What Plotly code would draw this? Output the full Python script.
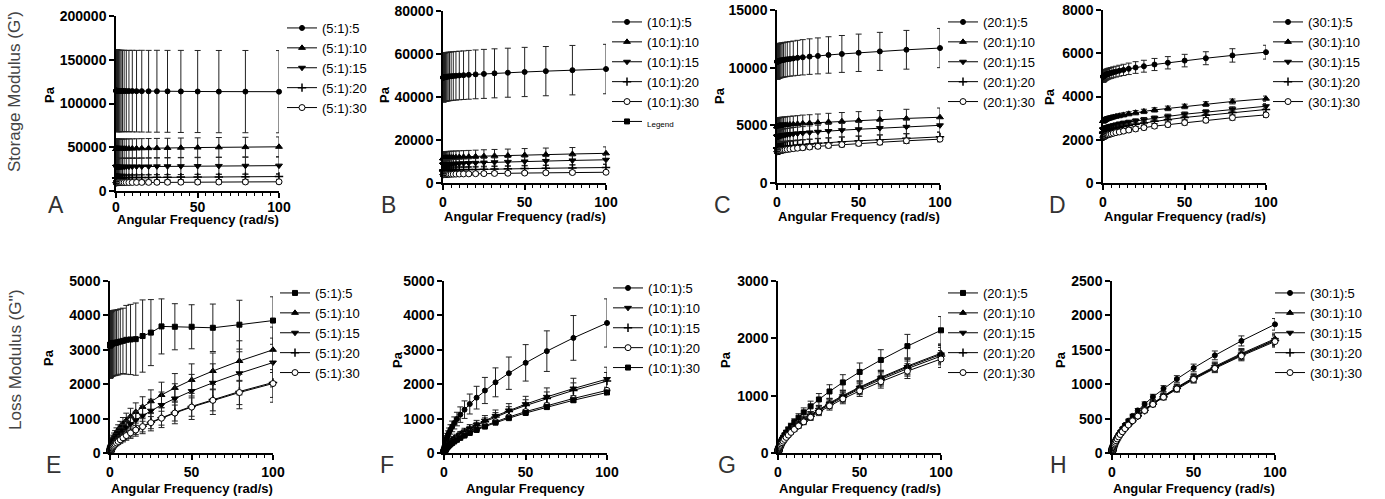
import plotly.graph_objects as go

W, H = 1385, 499

# ---------------- data ----------------
FREQ = [0.1, 0.126, 0.158, 0.2, 0.251, 0.316, 0.398, 0.501, 0.631, 0.794, 1.0, 1.26, 1.58, 2.0, 2.51,
        3.16, 3.98, 5.01, 6.31, 7.94, 10.0, 12.6, 15.8, 20.0, 25.1, 31.6, 39.8, 50.1, 63.1, 79.4, 100.0]

# Storage modulus G' (Pa)
A_5 = [114500, 114500, 114500, 114500, 114500, 114400, 114400, 114400, 114400, 114400, 114400, 114400, 114300, 114300, 114300, 114300, 114300, 114300, 114200, 114200, 114200, 114100, 114100, 114000, 114000, 113900, 113800, 113700, 113600, 113600, 113500]
A_5_err = [46500, 46500, 46500, 46500, 46500, 46500, 46500, 46500, 46500, 46500, 46500, 46500, 46500, 46500, 46500, 46500, 46500, 46500, 46500, 46500, 46600, 46600, 46700, 46700, 46800, 46800, 46900, 46900, 47000, 47000, 47000]
A_10 = [48040, 48050, 48050, 48060, 48070, 48080, 48090, 48100, 48120, 48140, 48160, 48180, 48210, 48240, 48270, 48320, 48360, 48420, 48480, 48550, 48630, 48720, 48830, 48950, 49090, 49250, 49440, 49650, 49900, 50180, 50500]
A_10_err = [11000, 11000, 11000, 11000, 11000, 11000, 11000, 11000, 11000, 11000, 11000, 11000, 11000, 11000, 11000, 11000, 11000, 11000, 11000, 11000, 11000, 11000, 11000, 11000, 11000, 11000, 11100, 11100, 11200, 11200, 11300]
A_15 = [27520, 27530, 27530, 27540, 27540, 27550, 27550, 27560, 27570, 27580, 27600, 27610, 27630, 27640, 27660, 27690, 27720, 27750, 27790, 27830, 27880, 27930, 28000, 28070, 28160, 28250, 28360, 28490, 28640, 28810, 29000]
A_15_err = [9500, 9500, 9500, 9500, 9500, 9500, 9500, 9500, 9500, 9500, 9500, 9500, 9500, 9500, 9500, 9500, 9500, 9500, 9500, 9500, 9500, 9500, 9500, 9500, 9500, 9500, 9600, 9600, 9700, 9700, 9800]
A_20 = [15020, 15030, 15030, 15040, 15040, 15050, 15050, 15060, 15070, 15080, 15100, 15110, 15130, 15140, 15160, 15190, 15220, 15250, 15290, 15330, 15380, 15430, 15500, 15570, 15660, 15750, 15860, 15990, 16140, 16310, 16500]
A_20_err = [3000, 3000, 3000, 3000, 3000, 3000, 3000, 3000, 3000, 3000, 3000, 3000, 3000, 3000, 3000, 3000, 3000, 3000, 3000, 3000, 3000, 3000, 3000, 3000, 3000, 3000, 3000, 3100, 3100, 3100, 3200]
A_30 = [9520, 9520, 9520, 9520, 9530, 9530, 9540, 9540, 9550, 9560, 9560, 9570, 9580, 9600, 9610, 9630, 9650, 9670, 9690, 9720, 9750, 9790, 9830, 9880, 9940, 10000, 10080, 10160, 10260, 10370, 10500]
A_30_err = [2000, 2000, 2000, 2000, 2000, 2000, 2000, 2000, 2000, 2000, 2000, 2000, 2000, 2000, 2000, 2000, 2000, 2000, 2000, 2000, 2000, 2000, 2000, 2000, 2000, 2000, 2000, 2100, 2100, 2100, 2200]

B_5 = [49060, 49070, 49080, 49100, 49110, 49130, 49150, 49170, 49190, 49220, 49250, 49290, 49330, 49380, 49440, 49500, 49580, 49660, 49760, 49880, 50010, 50150, 50320, 50520, 50750, 51010, 51300, 51640, 52030, 52480, 53000]
B_5_err = [11300, 11300, 11300, 11300, 11300, 11300, 11300, 11300, 11300, 11300, 11300, 11300, 11300, 11300, 11300, 11300, 11300, 11300, 11300, 11300, 11300, 11300, 11350, 11350, 11400, 11400, 11400, 11450, 11450, 11500, 11500]
B_10 = [11540, 11540, 11550, 11560, 11560, 11570, 11580, 11600, 11610, 11630, 11650, 11670, 11690, 11720, 11750, 11790, 11830, 11880, 11940, 12000, 12080, 12160, 12260, 12370, 12500, 12650, 12820, 13020, 13250, 13500, 13800]
B_10_err = [2900, 2900, 2900, 2900, 2900, 2900, 2900, 2900, 2900, 2900, 2900, 2900, 2900, 2900, 2900, 2900, 2900, 2900, 2900, 2900, 2900, 2900, 2900, 2900, 2950, 2950, 2950, 3000, 3000, 3000, 3000]
B_15 = [8540, 8540, 8550, 8560, 8560, 8570, 8580, 8600, 8610, 8630, 8650, 8670, 8690, 8720, 8750, 8790, 8830, 8880, 8940, 9000, 9080, 9160, 9260, 9370, 9500, 9650, 9820, 10020, 10250, 10500, 10800]
B_15_err = [2000, 2000, 2000, 2000, 2000, 2000, 2000, 2000, 2000, 2000, 2000, 2000, 2000, 2000, 2000, 2000, 2000, 2000, 2000, 2000, 2000, 2000, 2000, 2000, 2000, 2000, 2050, 2050, 2100, 2100, 2100]
B_20 = [5820, 5830, 5830, 5830, 5840, 5840, 5850, 5860, 5870, 5880, 5890, 5900, 5920, 5930, 5950, 5980, 6000, 6030, 6070, 6110, 6150, 6200, 6260, 6330, 6410, 6500, 6610, 6730, 6860, 7020, 7200]
B_20_err = [1400, 1400, 1400, 1400, 1400, 1400, 1400, 1400, 1400, 1400, 1400, 1400, 1400, 1400, 1400, 1400, 1400, 1400, 1400, 1400, 1400, 1400, 1400, 1400, 1400, 1400, 1400, 1450, 1450, 1450, 1500]
B_30 = [3920, 3920, 3920, 3930, 3930, 3940, 3940, 3950, 3950, 3960, 3970, 3980, 3990, 4010, 4020, 4040, 4060, 4080, 4110, 4140, 4180, 4220, 4260, 4320, 4380, 4450, 4530, 4630, 4730, 4860, 5000]
B_30_err = [700, 700, 700, 700, 700, 700, 700, 700, 700, 700, 700, 700, 700, 700, 700, 700, 700, 700, 700, 700, 700, 700, 700, 700, 700, 700, 700, 720, 720, 740, 750]

C_5 = [10520, 10520, 10530, 10530, 10530, 10540, 10540, 10550, 10560, 10570, 10580, 10590, 10600, 10620, 10630, 10650, 10670, 10700, 10730, 10760, 10800, 10850, 10900, 10960, 11020, 11100, 11190, 11290, 11410, 11550, 11700]
C_5_err = [1500, 1500, 1500, 1500, 1500, 1500, 1500, 1500, 1500, 1500, 1500, 1500, 1500, 1500, 1500, 1500, 1500, 1500, 1500, 1500, 1510, 1520, 1530, 1540, 1560, 1580, 1600, 1620, 1650, 1680, 1700]
C_10 = [4910, 4920, 4920, 4920, 4920, 4930, 4930, 4930, 4940, 4940, 4950, 4960, 4970, 4980, 4990, 5000, 5020, 5030, 5050, 5080, 5100, 5130, 5170, 5200, 5250, 5300, 5360, 5430, 5510, 5600, 5700]
C_10_err = [700, 700, 700, 700, 700, 700, 700, 700, 700, 700, 700, 700, 700, 700, 700, 700, 700, 700, 700, 700, 710, 710, 720, 720, 730, 740, 750, 760, 770, 790, 800]
C_15 = [4020, 4020, 4020, 4020, 4030, 4030, 4040, 4040, 4050, 4060, 4060, 4070, 4080, 4100, 4110, 4130, 4150, 4170, 4190, 4220, 4250, 4290, 4330, 4380, 4440, 4500, 4580, 4660, 4760, 4870, 5000]
C_15_err = [550, 550, 550, 550, 550, 550, 550, 550, 550, 550, 550, 550, 550, 550, 550, 550, 550, 550, 550, 550, 560, 560, 560, 570, 570, 580, 580, 590, 590, 600, 600]
C_20 = [3020, 3020, 3020, 3020, 3030, 3030, 3040, 3040, 3050, 3060, 3060, 3070, 3080, 3100, 3110, 3130, 3150, 3170, 3190, 3220, 3250, 3290, 3330, 3380, 3440, 3500, 3580, 3660, 3760, 3870, 4000]
C_20_err = [400, 400, 400, 400, 400, 400, 400, 400, 400, 400, 400, 400, 400, 400, 400, 400, 400, 400, 400, 400, 400, 400, 400, 400, 400, 400, 400, 400, 410, 410, 420]
C_30 = [2720, 2720, 2720, 2730, 2730, 2740, 2740, 2750, 2750, 2760, 2770, 2780, 2790, 2810, 2820, 2840, 2860, 2880, 2910, 2940, 2980, 3020, 3060, 3120, 3180, 3250, 3330, 3430, 3530, 3660, 3800]
C_30_err = [200, 200, 200, 200, 200, 200, 200, 200, 200, 200, 200, 200, 200, 200, 200, 200, 200, 200, 200, 200, 200, 200, 200, 200, 200, 200, 200, 200, 210, 210, 220]

D_5 = [4920, 4920, 4920, 4930, 4930, 4940, 4940, 4950, 4960, 4960, 4970, 4980, 5000, 5010, 5030, 5050, 5070, 5090, 5120, 5150, 5190, 5230, 5280, 5340, 5400, 5480, 5560, 5660, 5770, 5900, 6050]
D_5_err = [250, 250, 250, 250, 250, 250, 250, 250, 250, 250, 250, 250, 250, 250, 250, 250, 250, 250, 250, 250, 255, 260, 265, 270, 275, 280, 285, 290, 300, 310, 320]
D_10 = [2870, 2870, 2870, 2880, 2880, 2880, 2890, 2890, 2900, 2910, 2920, 2930, 2940, 2950, 2970, 2980, 3000, 3020, 3050, 3080, 3110, 3150, 3200, 3250, 3310, 3380, 3450, 3540, 3650, 3770, 3900]
D_10_err = [90, 90, 90, 90, 90, 90, 90, 90, 90, 90, 90, 90, 90, 90, 90, 90, 90, 90, 90, 90, 95, 95, 95, 100, 100, 100, 105, 105, 110, 115, 120]
D_15 = [2470, 2470, 2470, 2480, 2480, 2490, 2490, 2500, 2500, 2510, 2520, 2530, 2540, 2560, 2570, 2590, 2610, 2630, 2660, 2690, 2730, 2770, 2810, 2870, 2930, 3000, 3080, 3180, 3280, 3410, 3550]
D_15_err = [90, 90, 90, 90, 90, 90, 90, 90, 90, 90, 90, 90, 90, 90, 90, 90, 90, 90, 90, 90, 95, 95, 95, 100, 100, 100, 105, 105, 110, 115, 120]
D_20 = [2320, 2320, 2320, 2330, 2330, 2340, 2340, 2350, 2350, 2360, 2370, 2380, 2390, 2410, 2420, 2440, 2460, 2480, 2510, 2540, 2580, 2620, 2660, 2720, 2780, 2850, 2930, 3030, 3130, 3260, 3400]
D_20_err = [90, 90, 90, 90, 90, 90, 90, 90, 90, 90, 90, 90, 90, 90, 90, 90, 90, 90, 90, 90, 95, 95, 95, 100, 100, 100, 105, 105, 110, 110, 115]
D_30 = [2120, 2120, 2120, 2130, 2130, 2130, 2140, 2140, 2150, 2160, 2170, 2180, 2190, 2200, 2220, 2230, 2250, 2270, 2300, 2330, 2360, 2400, 2450, 2500, 2560, 2630, 2700, 2790, 2900, 3020, 3150]
D_30_err = [90, 90, 90, 90, 90, 90, 90, 90, 90, 90, 90, 90, 90, 90, 90, 90, 90, 90, 90, 90, 95, 95, 95, 100, 100, 100, 105, 105, 110, 110, 115]

# Loss modulus G'' (Pa)
E_5 = [3120, 3130, 3140, 3140, 3150, 3150, 3160, 3160, 3170, 3170, 3180, 3180, 3190, 3190, 3200, 3200, 3210, 3220, 3240, 3260, 3290, 3300, 3310, 3400, 3500, 3680, 3670, 3670, 3640, 3730, 3850]
E_5_err = [950, 950, 950, 950, 950, 950, 950, 950, 950, 950, 950, 950, 950, 950, 950, 950, 950, 950, 950, 950, 1000, 1020, 1050, 1050, 960, 800, 670, 640, 690, 710, 690]
E_10 = [95, 107, 119, 134, 150, 169, 189, 212, 238, 267, 300, 336, 378, 424, 476, 534, 599, 672, 754, 846, 949, 1065, 1194, 1340, 1504, 1687, 1893, 2124, 2383, 2674, 3000]
E_10_err = [21, 24, 26, 29, 33, 37, 42, 47, 52, 59, 66, 74, 83, 93, 105, 117, 132, 148, 166, 186, 209, 234, 263, 295, 331, 371, 416, 467, 524, 588, 660]
E_15 = [59, 67, 76, 86, 98, 111, 126, 143, 162, 184, 209, 237, 269, 305, 347, 393, 447, 507, 575, 653, 741, 841, 955, 1084, 1230, 1396, 1585, 1799, 2041, 2317, 2630]
E_15_err = [16, 18, 21, 23, 26, 30, 34, 39, 44, 50, 56, 64, 73, 82, 94, 106, 121, 137, 155, 176, 200, 227, 258, 293, 332, 377, 428, 486, 551, 626, 710]
E_20 = [32, 37, 43, 49, 56, 65, 74, 85, 98, 113, 129, 148, 171, 196, 225, 258, 296, 340, 391, 449, 515, 591, 679, 779, 895, 1027, 1180, 1354, 1555, 1786, 2050]
E_20_err = [9, 10, 12, 14, 16, 18, 21, 24, 27, 32, 36, 41, 48, 55, 63, 72, 83, 95, 109, 126, 144, 165, 190, 218, 251, 288, 330, 379, 435, 500, 574]
E_30 = [32, 37, 42, 48, 56, 64, 73, 84, 97, 111, 127, 146, 168, 193, 221, 254, 292, 335, 385, 442, 507, 583, 669, 768, 882, 1012, 1162, 1335, 1532, 1759, 2020]
E_30_err = [6, 7, 8, 10, 11, 13, 15, 17, 19, 22, 25, 29, 34, 39, 44, 51, 58, 67, 77, 88, 101, 117, 134, 154, 176, 202, 232, 267, 306, 352, 404]

F_5 = [97, 110, 124, 140, 158, 179, 202, 228, 258, 291, 329, 372, 420, 475, 536, 606, 685, 773, 874, 987, 1115, 1260, 1424, 1609, 1817, 2054, 2320, 2621, 2961, 3346, 3780]
F_5_err = [19, 22, 25, 28, 32, 36, 40, 46, 52, 58, 66, 74, 84, 95, 107, 121, 137, 155, 175, 197, 225, 255, 290, 330, 380, 420, 470, 530, 590, 650, 700]
F_10 = [34, 39, 45, 52, 59, 68, 78, 90, 103, 118, 136, 156, 179, 205, 236, 271, 311, 357, 410, 470, 540, 620, 712, 817, 938, 1078, 1237, 1420, 1631, 1873, 2150]
F_10_err = [5, 6, 7, 8, 9, 11, 12, 14, 16, 19, 22, 25, 29, 33, 38, 43, 50, 57, 66, 75, 86, 99, 114, 131, 150, 172, 198, 227, 261, 300, 344]
F_15 = [33, 38, 44, 50, 57, 66, 76, 87, 100, 115, 132, 151, 174, 200, 229, 263, 302, 347, 398, 457, 525, 603, 692, 795, 912, 1048, 1203, 1381, 1585, 1820, 2090]
F_15_err = [4, 5, 5, 6, 7, 8, 9, 10, 12, 14, 16, 18, 21, 24, 27, 32, 36, 42, 48, 55, 63, 72, 83, 95, 109, 126, 144, 166, 190, 218, 251]
F_20 = [29, 33, 38, 44, 50, 58, 66, 76, 87, 100, 115, 132, 151, 174, 199, 229, 263, 302, 347, 398, 457, 525, 603, 692, 794, 912, 1047, 1202, 1381, 1585, 1820]
F_20_err = [1, 2, 2, 2, 3, 3, 3, 4, 4, 5, 6, 7, 8, 9, 10, 11, 13, 15, 17, 20, 23, 26, 30, 35, 40, 46, 52, 60, 69, 79, 91]
F_30 = [28, 32, 37, 42, 48, 56, 64, 73, 84, 97, 111, 127, 146, 168, 193, 222, 254, 292, 335, 385, 442, 508, 583, 669, 768, 882, 1013, 1163, 1335, 1533, 1760]
F_30_err = [1, 1, 1, 2, 2, 2, 3, 3, 3, 4, 4, 5, 6, 7, 8, 9, 10, 12, 13, 15, 18, 20, 23, 27, 31, 35, 41, 47, 53, 61, 70]

G_5 = [34, 39, 45, 51, 59, 68, 78, 89, 103, 118, 135, 155, 178, 204, 235, 269, 309, 355, 408, 468, 538, 617, 709, 814, 934, 1073, 1231, 1414, 1623, 1864, 2140]
G_5_err = [4, 4, 5, 6, 6, 7, 9, 10, 11, 13, 15, 17, 20, 22, 26, 30, 34, 39, 45, 51, 59, 68, 78, 90, 103, 118, 135, 156, 179, 205, 240]
G_10 = [27, 32, 36, 42, 48, 55, 63, 73, 83, 96, 110, 126, 145, 166, 191, 219, 251, 289, 331, 381, 437, 502, 576, 662, 760, 872, 1001, 1150, 1320, 1516, 1740]
G_10_err = [2, 3, 3, 4, 4, 5, 6, 7, 7, 9, 10, 11, 13, 15, 17, 20, 23, 26, 30, 34, 39, 45, 52, 60, 68, 78, 90, 104, 119, 136, 157]
G_15 = [27, 31, 36, 41, 47, 54, 62, 72, 82, 95, 109, 125, 143, 164, 189, 217, 249, 286, 328, 376, 432, 496, 570, 654, 751, 862, 990, 1136, 1305, 1498, 1720]
G_15_err = [2, 3, 3, 4, 4, 5, 6, 6, 7, 9, 10, 11, 13, 15, 17, 20, 22, 26, 30, 34, 39, 45, 51, 59, 68, 78, 89, 102, 117, 135, 155]
G_20 = [27, 31, 35, 41, 46, 53, 61, 70, 81, 93, 107, 122, 141, 161, 185, 213, 244, 281, 322, 370, 425, 487, 560, 643, 738, 847, 972, 1117, 1282, 1472, 1690]
G_20_err = [2, 3, 3, 4, 4, 5, 5, 6, 7, 8, 10, 11, 13, 14, 17, 19, 22, 25, 29, 33, 38, 44, 50, 58, 66, 76, 87, 100, 115, 132, 152]
G_30 = [26, 30, 34, 39, 45, 52, 60, 68, 79, 90, 103, 119, 136, 157, 180, 206, 237, 272, 312, 359, 412, 473, 543, 624, 716, 822, 944, 1084, 1244, 1428, 1640]
G_30_err = [2, 3, 3, 4, 4, 5, 5, 6, 7, 8, 9, 11, 12, 14, 16, 19, 21, 24, 28, 32, 37, 43, 49, 56, 64, 74, 85, 98, 112, 129, 148]

H_5 = [30, 34, 39, 45, 51, 59, 68, 78, 90, 103, 118, 135, 156, 179, 205, 235, 270, 310, 356, 409, 470, 539, 619, 711, 816, 937, 1076, 1236, 1419, 1629, 1870]
H_5_err = [1, 2, 2, 2, 2, 3, 3, 4, 4, 5, 5, 6, 7, 8, 9, 11, 12, 14, 16, 18, 21, 24, 28, 32, 37, 42, 48, 56, 64, 73, 84]
H_10 = [26, 30, 35, 40, 46, 52, 60, 69, 80, 91, 105, 120, 138, 159, 182, 209, 240, 276, 316, 363, 417, 479, 550, 631, 725, 832, 955, 1097, 1259, 1446, 1660]
H_10_err = [1, 2, 2, 2, 2, 3, 3, 3, 4, 5, 5, 6, 7, 8, 9, 10, 12, 14, 16, 18, 21, 24, 28, 32, 36, 42, 48, 55, 63, 72, 83]
H_15 = [26, 30, 34, 39, 45, 52, 60, 69, 79, 90, 104, 119, 137, 157, 180, 207, 238, 273, 313, 360, 413, 474, 545, 625, 718, 825, 947, 1087, 1248, 1433, 1645]
H_15_err = [1, 2, 2, 2, 2, 3, 3, 3, 4, 5, 5, 6, 7, 8, 9, 10, 12, 14, 16, 18, 21, 24, 27, 31, 36, 41, 47, 54, 62, 72, 82]
H_20 = [26, 30, 34, 39, 45, 52, 59, 68, 78, 90, 103, 118, 136, 156, 179, 206, 236, 271, 311, 358, 411, 472, 541, 622, 714, 819, 941, 1080, 1240, 1424, 1635]
H_20_err = [1, 1, 2, 2, 2, 3, 3, 3, 4, 4, 5, 6, 7, 8, 9, 10, 12, 14, 16, 18, 21, 24, 27, 31, 36, 41, 47, 54, 62, 71, 82]
H_30 = [26, 29, 34, 39, 45, 51, 59, 68, 78, 89, 102, 117, 135, 155, 178, 204, 234, 269, 309, 354, 407, 467, 536, 616, 707, 812, 932, 1070, 1229, 1411, 1620]
H_30_err = [1, 1, 2, 2, 2, 3, 3, 3, 4, 4, 5, 6, 7, 8, 9, 10, 12, 13, 15, 18, 20, 23, 27, 31, 35, 41, 47, 54, 61, 71, 81]

A_NAMES = ["(5:1):5", "(5:1):10", "(5:1):15", "(5:1):20", "(5:1):30"]
B_NAMES = ["(10:1):5", "(10:1):10", "(10:1):15", "(10:1):20", "(10:1):30"]
C_NAMES = ["(20:1):5", "(20:1):10", "(20:1):15", "(20:1):20", "(20:1):30"]
D_NAMES = ["(30:1):5", "(30:1):10", "(30:1):15", "(30:1):20", "(30:1):30"]

STD_SYMS = ["dot", "tri-up", "tri-down", "cross", "open"]
E_SYMS = ["square", "tri-up", "tri-down", "cross", "open"]
F_SYMS = ["dot", "tri-down", "cross", "open", "square"]

PANELS = [
    dict(letter="A", names=A_NAMES, ys=[A_5, A_10, A_15, A_20, A_30],
         errs=[A_5_err, A_10_err, A_15_err, A_20_err, A_30_err], syms=STD_SYMS,
         ymax=200000, dtick=50000, box=(116, 279, 16, 191), leg=(322, 27), standoff=-3,
         letpos=(56, 205), papos=(50, 95), xtitle="Angular Frequency (rad/s)", xtitle_y=219),
    dict(letter="B", names=B_NAMES, ys=[B_5, B_10, B_15, B_20, B_30],
         errs=[B_5_err, B_10_err, B_15_err, B_20_err, B_30_err], syms=STD_SYMS,
         ymax=80000, dtick=20000, box=(443, 606, 11, 183), leg=(647, 21), standoff=0,
         letpos=(388, 205), papos=(385, 95), xtitle="Angular Frequency (rad/s)", xtitle_y=216),
    dict(letter="C", names=C_NAMES, ys=[C_5, C_10, C_15, C_20, C_30],
         errs=[C_5_err, C_10_err, C_15_err, C_20_err, C_30_err], syms=STD_SYMS,
         ymax=15000, dtick=5000, box=(777, 940, 10, 183), leg=(983, 21), standoff=0,
         letpos=(722, 205), papos=(720, 95), xtitle="Angular Frequency (rad/s)", xtitle_y=216),
    dict(letter="D", names=D_NAMES, ys=[D_5, D_10, D_15, D_20, D_30],
         errs=[D_5_err, D_10_err, D_15_err, D_20_err, D_30_err], syms=STD_SYMS,
         ymax=8000, dtick=2000, box=(1103, 1266, 10, 183), leg=(1308, 21), standoff=0,
         letpos=(1057, 205), papos=(1050, 97), xtitle="Angular Frequency (rad/s)", xtitle_y=216),
    dict(letter="E", names=A_NAMES, ys=[E_5, E_10, E_15, E_20, E_30],
         errs=[E_5_err, E_10_err, E_15_err, E_20_err, E_30_err], syms=E_SYMS,
         ymax=5000, dtick=1000, box=(110, 273, 281, 453), leg=(315, 292), standoff=0,
         letpos=(53, 465), papos=(48, 358), xtitle="Angular Frequency (rad/s)", xtitle_y=488),
    dict(letter="F", names=B_NAMES, ys=[F_5, F_10, F_15, F_20, F_30],
         errs=[F_5_err, F_10_err, F_15_err, F_20_err, F_30_err], syms=F_SYMS,
         ymax=5000, dtick=1000, box=(444, 607, 281, 453), leg=(648, 287), standoff=0,
         letpos=(387, 465), papos=(397, 360), xtitle="Angular Frequency", xtitle_y=488),
    dict(letter="G", names=C_NAMES, ys=[G_5, G_10, G_15, G_20, G_30],
         errs=[G_5_err, G_10_err, G_15_err, G_20_err, G_30_err], syms=E_SYMS,
         ymax=3000, dtick=1000, box=(778, 941, 281, 453), leg=(983, 292), standoff=0,
         letpos=(727, 465), papos=(725, 360), xtitle="Angular Frequency (rad/s)", xtitle_y=488),
    dict(letter="H", names=D_NAMES, ys=[H_5, H_10, H_15, H_20, H_30],
         errs=[H_5_err, H_10_err, H_15_err, H_20_err, H_30_err], syms=STD_SYMS,
         ymax=2500, dtick=500, box=(1112, 1275, 281, 453), leg=(1310, 292), standoff=0,
         letpos=(1058, 465), papos=(1060, 360), xtitle="Angular Frequency (rad/s)", xtitle_y=488),
]

FONT = "Liberation Sans, Arial, Helvetica, sans-serif"


def px(x):
    return x / W


def py(y):
    return 1 - y / H


def marker_style(kind):
    base = dict(size=5, color="black", line=dict(color="black", width=1))
    if kind == "dot":
        base["symbol"] = "circle"
    elif kind == "square":
        base["symbol"] = "square"
    elif kind == "tri-up":
        base["symbol"] = "triangle-up"
        base["size"] = 6
    elif kind == "tri-down":
        base["symbol"] = "triangle-down"
        base["size"] = 6
    elif kind == "cross":
        base["symbol"] = "cross-thin"
        base["size"] = 6
        base["line"] = dict(color="black", width=1.5)
    elif kind == "open":
        base["symbol"] = "circle"
        base["size"] = 6
        base["color"] = "white"
    return base


fig = go.Figure()
annotations = []
layout = dict(width=W, height=H, margin=dict(l=0, r=0, t=0, b=0, autoexpand=False),
              paper_bgcolor="white", plot_bgcolor="white", showlegend=True,
              font=dict(family=FONT, color="black"))

for i, p in enumerate(PANELS):
    n = i + 1
    xk = "x" if n == 1 else f"x{n}"
    yk = "y" if n == 1 else f"y{n}"
    lk = "legend" if n == 1 else f"legend{n}"
    x0, x1, y0, y1 = p["box"]
    for name, ys, err, sym in zip(p["names"], p["ys"], p["errs"], p["syms"]):
        fig.add_trace(go.Scatter(
            x=FREQ, y=ys, mode="lines+markers", name=name,
            error_y=dict(type="data", array=err, visible=True, color="#222222", thickness=1, width=3),
            marker=marker_style(sym), line=dict(color="black", width=1),
            xaxis=xk, yaxis=yk, legend=lk, cliponaxis=False))
    if p["letter"] == "B":
        fig.add_trace(go.Scatter(
            x=[None], y=[None], mode="lines+markers",
            name='<span style="font-size:8px">Legend</span>',
            marker=marker_style("square"), line=dict(color="black", width=1),
            xaxis=xk, yaxis=yk, legend=lk))

    axis_common = dict(showline=True, linecolor="black", linewidth=1.5, ticks="outside",
                       ticklen=5, tickwidth=1.5, tickcolor="black", showgrid=False,
                       zeroline=False, tickfont=dict(family=FONT, size=14, color="black", weight="bold"))
    layout["xaxis" if n == 1 else f"xaxis{n}"] = dict(
        domain=[px(x0), px(x1)], anchor=yk, range=[0, 100], tickmode="linear", tick0=0, dtick=50,
        ticklabelstandoff=p["standoff"],
        minor=dict(dtick=5, tick0=0, ticks="outside", ticklen=3, tickwidth=1, tickcolor="black"),
        **axis_common)
    layout["yaxis" if n == 1 else f"yaxis{n}"] = dict(
        domain=[py(y1), py(y0)], anchor=xk, range=[0, p["ymax"]], tickmode="linear", tick0=0,
        dtick=p["dtick"], tickformat="d", **axis_common)
    lx, ly = p["leg"]
    layout[lk] = dict(x=px(lx - 40), y=py(ly - 14), xanchor="left", yanchor="top",
                      bgcolor="rgba(0,0,0,0)", tracegroupgap=0,
                      font=dict(family=FONT, size=13, color="black"))

    annotations.append(dict(text=p["letter"], x=px(p["letpos"][0]), y=py(p["letpos"][1]),
                            xref="paper", yref="paper", showarrow=False, xanchor="center", yanchor="middle",
                            font=dict(family=FONT, size=23, color="#333333")))
    annotations.append(dict(text="Pa", x=px(p["papos"][0]), y=py(p["papos"][1]), textangle=-90,
                            xref="paper", yref="paper", showarrow=False, xanchor="center", yanchor="middle",
                            font=dict(family=FONT, size=13, color="black", weight="bold")))
    annotations.append(dict(text=p["xtitle"], x=px((x0 + x1) / 2), y=py(p["xtitle_y"]),
                            xref="paper", yref="paper", showarrow=False, xanchor="center", yanchor="middle",
                            font=dict(family=FONT, size=13, color="black", weight="bold")))

annotations.append(dict(text="Storage Modulus (G')", x=px(15), y=py(92), textangle=-90,
                        xref="paper", yref="paper", showarrow=False, xanchor="center", yanchor="middle",
                        font=dict(family=FONT, size=17, color="#444444")))
annotations.append(dict(text="Loss Modulus (G'')", x=px(15), y=py(360), textangle=-90,
                        xref="paper", yref="paper", showarrow=False, xanchor="center", yanchor="middle",
                        font=dict(family=FONT, size=17, color="#444444")))

layout["annotations"] = annotations
fig.update_layout(**layout)
fig.write_html("out.html", config={"displayModeBar": False},
               post_script="document.body.style.margin='0px';document.body.style.overflow='hidden';")
